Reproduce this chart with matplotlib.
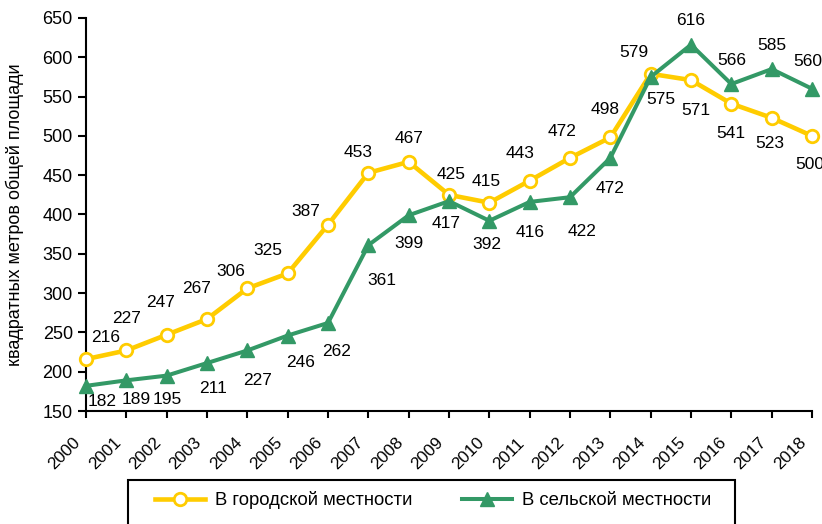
"""
Ввод жилья в городской и сельской местности, 2000-2018:
два ряда с подписями значений и легендой внизу.
"""

import matplotlib
matplotlib.use("Agg")
import matplotlib.pyplot as plt
from matplotlib.patches import Rectangle
from matplotlib.transforms import ScaledTranslation

plt.rcParams["font.family"] = ["Liberation Sans", "DejaVu Sans"]

years = [str(y) for y in range(2000, 2019)]
urban = [216, 227, 247, 267, 306, 325, 387, 453, 467, 425, 415, 443, 472, 498,
         579, 571, 541, 523, 500]
rural = [182, 189, 195, 211, 227, 246, 262, 361, 399, 417, 392, 416, 422, 472,
         575, 616, 566, 585, 560]

urban_name = "В городской местности"
rural_name = "В сельской местности"
y_title = "квадратных метров общей площади"

# where each value label sits relative to its point (pixels, x right / y down)
urban_offsets = [(20, -22), (0, -32), (-6, -32), (-10, -31), (-17, -17), (-20, -23),
                 (-22, -13), (-10, -20), (0, -23), (2, -20), (-3, -21), (-10, -27),
                 (-8, -26), (-5, -28), (-17, -21), (5, 30), (0, 30), (-2, 26), (-2, 29)]
rural_offsets = [(16, 16), (10, 19), (1, 24), (6, 25), (10, 30), (13, 27), (9, 29),
                 (14, 35), (0, 28), (-3, 22), (-2, 24), (0, 31), (12, 34), (0, 31),
                 (10, 23), (0, -24), (0, -24), (0, -24), (-4, -27)]

YELLOW = "#FFCC00"
GREEN = "#339966"

fig = plt.figure(figsize=(8.22, 5.24), dpi=100)
ax = fig.add_axes([86 / 822, 1 - 411 / 524, 726 / 822, 393 / 524])

x = list(range(len(years)))
ax.plot(x, urban, color=YELLOW, lw=3.3, marker="o", ms=9, mfc="white",
        mec=YELLOW, mew=2, zorder=3, label=urban_name, clip_on=False)
ax.plot(x, rural, color=GREEN, lw=2.9, marker="^", ms=10, mfc=GREEN,
        mec=GREEN, zorder=4, label=rural_name, clip_on=False)

for xi, v, (dx, dy) in zip(x, urban, urban_offsets):
    ax.annotate(str(v), (xi, v), xytext=(dx, -dy), textcoords="offset pixels",
                ha="center", va="center", fontsize=12.5, annotation_clip=False)
for xi, v, (dx, dy) in zip(x, rural, rural_offsets):
    ax.annotate(str(v), (xi, v), xytext=(dx, -dy), textcoords="offset pixels",
                ha="center", va="center", fontsize=12.5, annotation_clip=False)

ax.set_xlim(0, len(years) - 1)
ax.set_ylim(150, 650)
ax.set_yticks(range(150, 651, 50))
ax.set_xticks(x)
ax.set_xticklabels(years, rotation=45, ha="right", va="top",
                   rotation_mode="anchor", fontsize=12.3)
ax.tick_params(axis="y", labelsize=13, length=6, width=1.5, direction="out")
ax.tick_params(axis="x", length=5, width=1.5, direction="out", pad=8)

# nudge the slanted year labels left and down, as in the original
shift = ScaledTranslation(-13 / 100, -6 / 100, fig.dpi_scale_trans)
for lbl in ax.get_xticklabels():
    lbl.set_transform(lbl.get_transform() + shift)

for side in ("top", "right"):
    ax.spines[side].set_visible(False)
for side in ("left", "bottom"):
    ax.spines[side].set_linewidth(1.5)

ax.set_ylabel(y_title, fontsize=13, va="center")
ax.yaxis.set_label_coords(-0.098, 0.5)

# legend box runs past the bottom edge in the original
fig.patches.append(Rectangle((128 / 822, -0.05), 607 / 822, 0.05 + 44 / 524,
                             transform=fig.transFigure, fill=False,
                             edgecolor="black", lw=1.5))
fig.legend(loc="center", bbox_to_anchor=(0.527, 1 - 500 / 524), ncol=2,
           frameon=False, fontsize=13.3, handlelength=2.7, columnspacing=2.65,
           handletextpad=0.55)

fig.savefig("out.png", dpi=100)
